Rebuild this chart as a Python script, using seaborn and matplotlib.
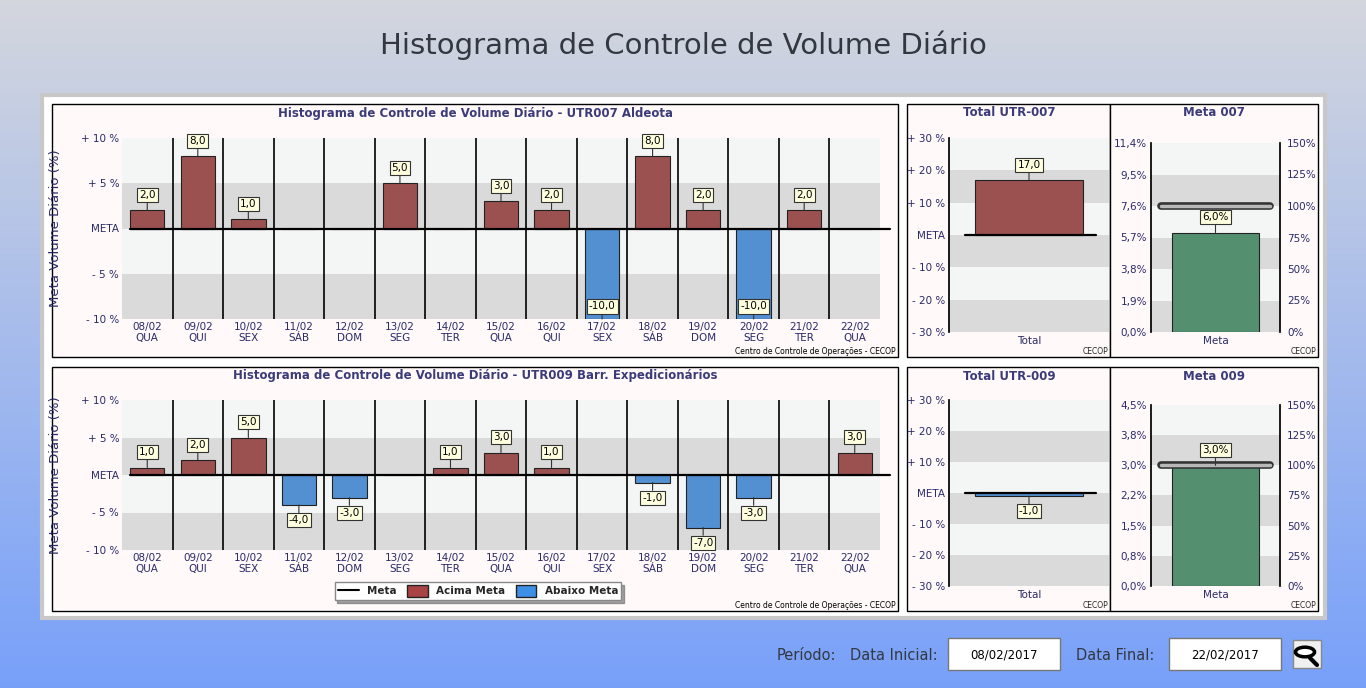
import numpy as np
import pandas as pd
import matplotlib
matplotlib.use("Agg")
import matplotlib.pyplot as plt
import seaborn as sns
from matplotlib.patches import Rectangle
from matplotlib.lines import Line2D

sns.set_theme(style="white")
plt.rcParams['font.family'] = ['DejaVu Sans']

datas = ["08/02", "09/02", "10/02", "11/02", "12/02", "13/02", "14/02", "15/02",
         "16/02", "17/02", "18/02", "19/02", "20/02", "21/02", "22/02"]
dias = ["QUA", "QUI", "SEX", "SÁB", "DOM", "SEG", "TER", "QUA",
        "QUI", "SEX", "SÁB", "DOM", "SEG", "TER", "QUA"]
utr007 = [2, 8, 1, 0, 0, 5, 0, 3, 2, -10, 8, 2, -10, 2, 0]
utr009 = [1, 2, 5, -4, -3, 0, 1, 3, 1, 0, -1, -7, -3, 0, 3]
total007, total009 = 17.0, -1.0
meta007_val, meta007_alvo = 6.0, 7.6
meta009_val, meta009_alvo = 3.0, 3.0
meta007_ticks = [0.0, 1.9, 3.8, 5.7, 7.6, 9.5, 11.4]
meta009_ticks = [0.0, 0.75, 1.5, 2.25, 3.0, 3.75, 4.5]
meta009_labels = ["0,0%", "0,8%", "1,5%", "2,2%", "3,0%", "3,8%", "4,5%"]
pct_ticks = ["0%", "25%", "50%", "75%", "100%", "125%", "150%"]

W, H = 1366, 688
fig = plt.figure(figsize=(W / 100, H / 100), dpi=100)

def fx(px): return px / W
def fy(py): return 1 - py / H
def add_ax(x0, y0, x1, y1, **kw):
    return fig.add_axes([fx(x0), fy(y1), fx(x1 - x0), (y1 - y0) / H], **kw)

bg = fig.add_axes([0, 0, 1, 1], zorder=-10)
grad = np.linspace(0, 1, 256)[:, None]
c0 = np.array([0.83, 0.84, 0.87]); c1 = np.array([0.47, 0.63, 0.98])
img = c0[None, None, :] * (1 - grad[..., None]) + c1[None, None, :] * grad[..., None]
bg.imshow(img, aspect='auto', extent=[0, 1, 0, 1])
bg.set_axis_off()
bg.add_patch(Rectangle((fx(42), fy(618)), fx(1283), (618 - 95) / H, facecolor='white',
                       edgecolor='#c8c8c8', lw=3, transform=bg.transAxes))
for (x0, y0, x1, y1) in [(52, 104, 898, 357), (907, 104, 1110, 357), (1110, 104, 1318, 357),
                         (52, 367, 898, 611), (907, 367, 1110, 611), (1110, 367, 1318, 611)]:
    bg.add_patch(Rectangle((fx(x0), fy(y1)), fx(x1 - x0), (y1 - y0) / H, facecolor='#fff9fa',
                           edgecolor='black', lw=1, transform=bg.transAxes))
bg.set_xlim(0, 1); bg.set_ylim(0, 1)

fig.text(0.5, fy(45), "Histograma de Controle de Volume Diário", ha='center', va='center',
         fontsize=21, color='#333840')

NAVY = '#2a2a68'; TNAVY = '#3b3b7a'
RED = '#a84444'; BLUE = '#3e8fe6'; GREEN = '#4a9a6e'

def bands(ax, edges):
    for i in range(len(edges) - 1):
        col = '#f4f5f5' if i % 2 == 0 else '#dadada'
        ax.axhspan(edges[i + 1], edges[i], color=col, zorder=0, lw=0)

def label(ax, x, v, txt, off):
    ax.annotate(txt, xy=(x, v), xytext=(0, off), textcoords='offset points',
                ha='center', va='center', fontsize=7.5, color='black',
                bbox=dict(boxstyle='square,pad=0.2', fc='#ffffe0', ec='#333333', lw=0.8),
                arrowprops=dict(arrowstyle='-', lw=0.8, color='#333333', shrinkA=0, shrinkB=0),
                annotation_clip=False, zorder=6)

def main_chart(y0, y1, vals, title, boxtop, boxbot):
    ax = add_ax(122, y0, 880, y1)
    df = pd.DataFrame({'d': datas, 'v': vals, 's': ['A' if v >= 0 else 'B' for v in vals]})
    sns.barplot(data=df, x='d', y='v', hue='s', palette={'A': RED, 'B': BLUE}, dodge=False,
                width=0.68, edgecolor='#222222', linewidth=0.8, legend=False, ax=ax, zorder=3)
    ax.set_xlim(-0.5, 14.5); ax.set_ylim(-10, 10)
    bands(ax, [10, 5, 0, -5, -10])
    for i in range(1, 15):
        ax.axvline(i - 0.5, color='black', lw=1.2, zorder=2)
    ax.plot([-0.35, 14.7], [0, 0], color='black', lw=1.6, zorder=4, clip_on=False)
    for i, v in enumerate(vals):
        if v != 0:
            off = 11 if v > 0 else (-11 if v > -10 else 9)
            label(ax, i, v, f"{v:.1f}".replace('.', ','), off)
    ax.set_yticks([10, 5, 0, -5, -10])
    ax.set_yticklabels(["+ 10 %", "+ 5 %", "META", "- 5 %", "- 10 %"])
    ax.set_xticks(range(15))
    ax.set_xticklabels([f"{d}\n{w}" for d, w in zip(datas, dias)], linespacing=1.1)
    ax.tick_params(labelsize=7.5, colors=NAVY, length=0, pad=2)
    ax.set_xlabel("")
    ax.set_ylabel("Meta Volume Diário (%)", fontsize=9.5, color=NAVY)
    ax.yaxis.set_label_coords(fx(62 - 122) / fx(758), 0.5)
    for s in ax.spines.values(): s.set_visible(False)
    fig.text(fx(475), fy(boxtop + 9), title, ha='center', va='center', fontsize=8.5,
             fontweight='bold', color=TNAVY)
    fig.text(fx(896), fy(boxbot - 5), "Centro de Controle de Operações - CECOP", ha='right',
             va='center', fontsize=5.5, color='black')
    return ax

main_chart(138, 319, utr007, "Histograma de Controle de Volume Diário - UTR007 Aldeota", 104, 357)
main_chart(400, 550, utr009, "Histograma de Controle de Volume Diário - UTR009 Barr. Expedicionários", 367, 611)

def total_chart(y0, y1, val, title, boxtop, boxbot):
    ax = add_ax(949, y0, 1109, y1)
    df = pd.DataFrame({'c': ['Total'], 'v': [val]})
    sns.barplot(data=df, x='c', y='v', color=RED if val >= 0 else BLUE, width=0.67,
                edgecolor='#222222', linewidth=0.8, ax=ax, zorder=3)
    ax.set_xlim(-0.5, 0.5); ax.set_ylim(-30, 30)
    bands(ax, [30, 20, 10, 0, -10, -20, -30])
    ax.plot([-0.4, 0.42], [0, 0], color='black', lw=1.6, zorder=4)
    label(ax, 0, val, f"{val:.1f}".replace('.', ','), 11 if val > 0 else -11)
    ax.set_yticks([30, 20, 10, 0, -10, -20, -30])
    ax.set_yticklabels(["+ 30 %", "+ 20 %", "+ 10 %", "META", "- 10 %", "- 20 %", "- 30 %"])
    ax.tick_params(labelsize=7.5, colors=NAVY, length=0, pad=3)
    ax.set_xlabel(""); ax.set_ylabel("")
    for s in ax.spines.values(): s.set_visible(False)
    ax.spines['left'].set_visible(True); ax.spines['left'].set_color('black')
    fig.text(fx(1009), fy(boxtop + 9), title, ha='center', va='center', fontsize=8.5,
             fontweight='bold', color=TNAVY)
    fig.text(fx(1108), fy(boxbot - 5), "CECOP", ha='right', va='center', fontsize=5.5)

def meta_chart(y0, y1, val, alvo, ticks, tlabels, title, boxtop, boxbot):
    ax = add_ax(1151, y0, 1280, y1)
    df = pd.DataFrame({'c': ['Meta'], 'v': [val]})
    sns.barplot(data=df, x='c', y='v', color=GREEN, width=0.67, edgecolor='#222222',
                linewidth=0.8, ax=ax, zorder=3)
    ax.set_xlim(-0.5, 0.5); ax.set_ylim(ticks[0], ticks[-1])
    bands(ax, ticks[::-1])
    ax.plot([-0.42, 0.42], [alvo, alvo], color='#333333', lw=5.5, solid_capstyle='round', zorder=4)
    ax.plot([-0.42, 0.42], [alvo, alvo], color='#b8b8b8', lw=2.5, solid_capstyle='round', zorder=5)
    label(ax, 0, val, f"{val:.1f}%".replace('.', ','), 11)
    ax.set_yticks(ticks); ax.set_yticklabels(tlabels)
    ax.tick_params(labelsize=7.5, colors=NAVY, length=0, pad=3)
    ax.set_xlabel(""); ax.set_ylabel("")
    for s in ax.spines.values(): s.set_visible(False)
    for k in ('left', 'right'):
        ax.spines[k].set_visible(True); ax.spines[k].set_color('black')
    ax2 = ax.twinx()
    ax2.set_ylim(0, 150); ax2.set_yticks(range(0, 151, 25)); ax2.set_yticklabels(pct_ticks)
    ax2.tick_params(labelsize=7.5, colors=NAVY, length=0, pad=5)
    ax2.grid(False)
    for s in ax2.spines.values(): s.set_visible(False)
    fig.text(fx(1214), fy(boxtop + 9), title, ha='center', va='center', fontsize=8.5,
             fontweight='bold', color=TNAVY)
    fig.text(fx(1316), fy(boxbot - 5), "CECOP", ha='right', va='center', fontsize=5.5)

total_chart(138, 332, total007, "Total UTR-007", 104, 357)
meta_chart(143, 332, meta007_val, meta007_alvo, meta007_ticks,
           [f"{t:.1f}%".replace('.', ',') for t in meta007_ticks], "Meta 007", 104, 357)
total_chart(400, 586, total009, "Total UTR-009", 367, 611)
meta_chart(405, 586, meta009_val, meta009_alvo, meta009_ticks, meta009_labels, "Meta 009", 367, 611)

handles = [Line2D([0], [0], color='black', lw=1.5, drawstyle='steps-mid'),
           Rectangle((0, 0), 1, 1, fc=RED, ec='#222222'),
           Rectangle((0, 0), 1, 1, fc=BLUE, ec='#222222')]
leg = fig.legend(handles, ["Meta", "Acima Meta", "Abaixo Meta"], ncol=3, loc='center',
                 bbox_to_anchor=(fx(478), fy(591)), frameon=True, shadow=True,
                 fancybox=False, handlelength=2.0, handleheight=1.3, columnspacing=1.0,
                 borderpad=0.3, prop={'weight': 'bold', 'size': 7.5})
leg.get_frame().set_edgecolor('#888888')

fig.text(fx(806), fy(655), "Período:", ha='center', va='center', fontsize=10.5, color='#333840')
fig.text(fx(894), fy(655), "Data Inicial:", ha='center', va='center', fontsize=10.5, color='#333840')
fig.text(fx(1115), fy(655), "Data Final:", ha='center', va='center', fontsize=10.5, color='#333840')
for x0, txt in [(948, "08/02/2017"), (1169, "22/02/2017")]:
    bg.add_patch(Rectangle((fx(x0), fy(670)), fx(112), 32 / H, fc='white', ec='#777777', lw=1,
                           transform=bg.transAxes))
    fig.text(fx(x0 + 56), fy(655), txt, ha='center', va='center', fontsize=8.5, color='black')
bg.add_patch(Rectangle((fx(1293), fy(668)), fx(28), 28 / H, fc='#f0f0f0', ec='#888888', lw=1,
                       transform=bg.transAxes))
bg.add_patch(plt.Circle((fx(1305), fy(652)), 0.007, fc='white', ec='black', lw=2.5,
                        transform=bg.transAxes))
bg.plot([fx(1310), fx(1317)], [fy(658), fy(665)], color='black', lw=3, transform=bg.transAxes)

fig.savefig("out.png", dpi=100)
